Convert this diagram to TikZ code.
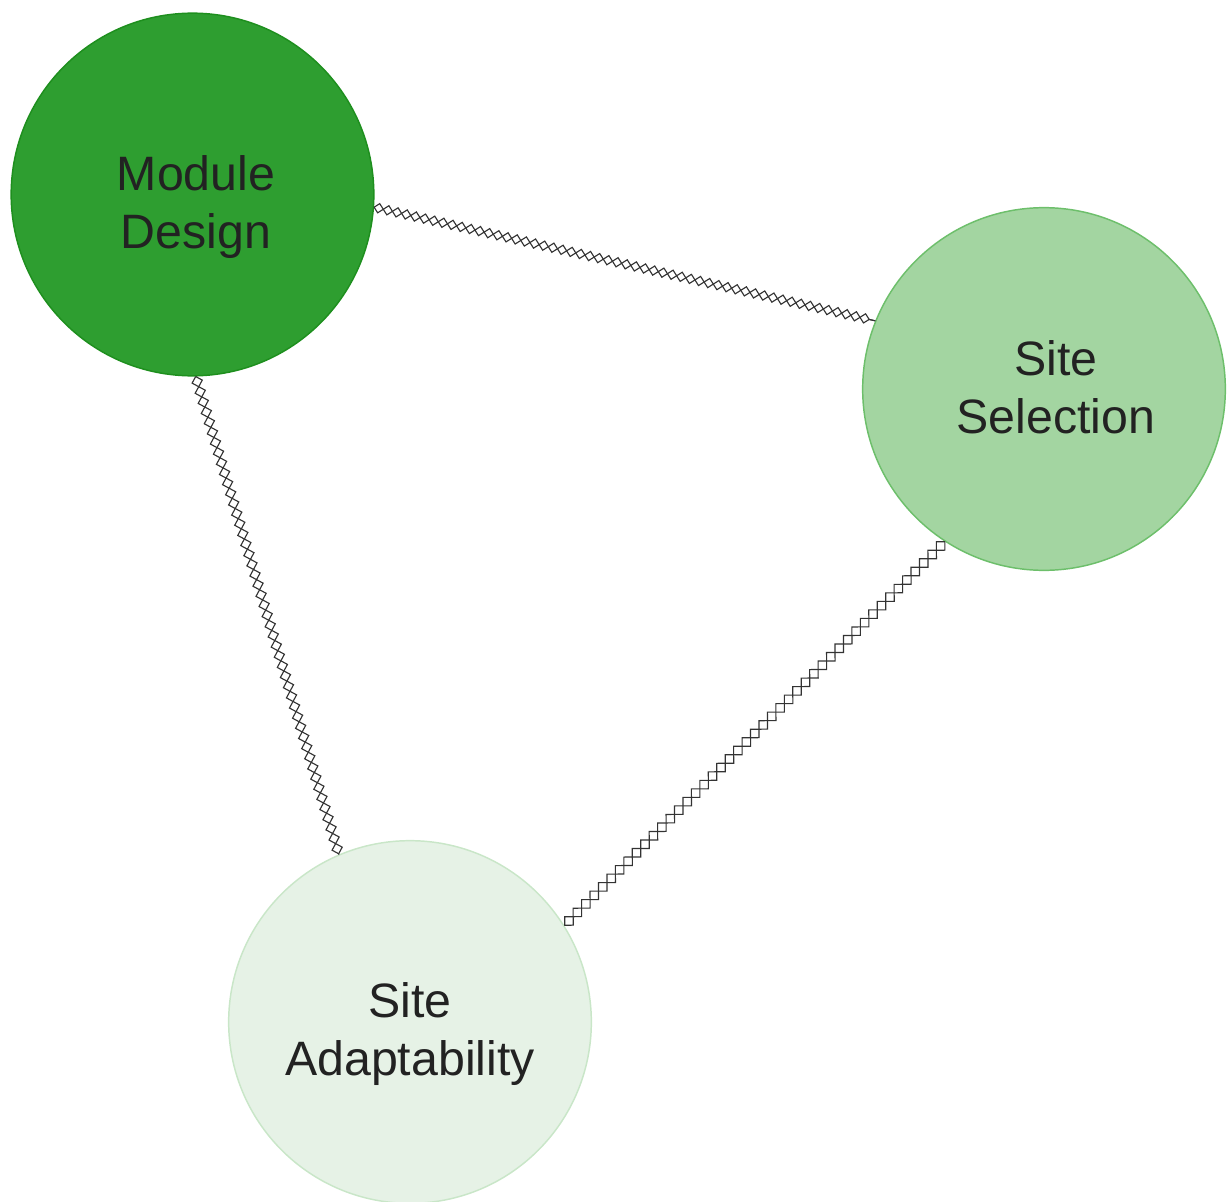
\documentclass[tikz,border=0pt]{standalone}
\usepackage{fontspec}
\setmainfont{Liberation Sans}
\usetikzlibrary{decorations.pathmorphing}
\definecolor{mdfill}{HTML}{2E9E30}
\definecolor{mddraw}{HTML}{1E8F1E}
\definecolor{ssfill}{HTML}{A3D5A1}
\definecolor{ssdraw}{HTML}{6DBF6B}
\definecolor{safill}{HTML}{E6F2E6}
\definecolor{sadraw}{HTML}{C9E6C8}
\definecolor{txt}{HTML}{222222}
\definecolor{chain}{HTML}{333333}
\begin{document}
\begin{tikzpicture}[x=0.75pt,y=-0.75pt,
  topic/.style={circle, minimum size=272pt, inner sep=0pt, line width=1.1pt},
  topictext/.style={inner sep=0pt, text=txt, align=center,
    font=\fontsize{36.2}{43.5}\selectfont},
  chainlink/.style={draw=chain, line width=0.85pt,
    decorate, decoration={zigzag, segment length=#1, amplitude=#1/4}},
  chainlink/.default=14pt]
\useasboundingbox (0,0) rectangle (1227,1202);
\node[topic, fill=mdfill, draw=mddraw] (md) at (192.5,194.5) {};
\node[topic, fill=ssfill, draw=ssdraw] (ss) at (1044,389) {};
\node[topic, fill=safill, draw=sadraw] (sa) at (410,1022) {};
\node[topictext] (mdt) at (196,207) {Module\\Design};
\node[topictext] (sst) at (1056,387) {Site\\Selection};
\node[topictext] (sat) at (410,1034) {Site\\Adaptability};
% chains of diamonds: two mirrored zigzags
\draw[chainlink=14.1pt] (md.-4) -- (ss.158);
\draw[chainlink=14.1pt, decoration={mirror}] (md.-4) -- (ss.158);
\draw[chainlink=15.9pt] (md.-89) -- (sa.113);
\draw[chainlink=15.9pt, decoration={mirror}] (md.-89) -- (sa.113);
\draw[chainlink=18pt] (ss.237.5) -- (sa.32);
\draw[chainlink=18pt, decoration={mirror}] (ss.237.5) -- (sa.32);
\end{tikzpicture}
\end{document}
